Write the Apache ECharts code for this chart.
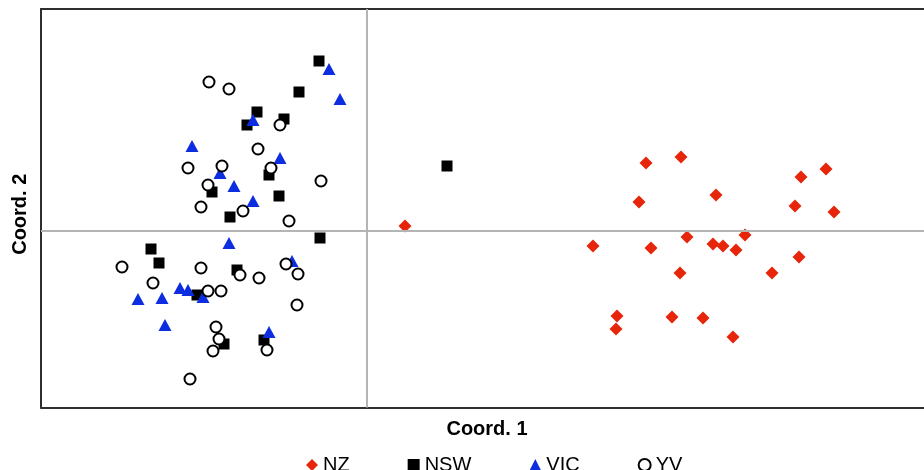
<!DOCTYPE html>
<html>
<head>
<meta charset="utf-8">
<script src="https://cdn.jsdelivr.net/npm/echarts@6/dist/echarts.min.js"></script>
<style>html,body{margin:0;padding:0;background:#fff}#c{width:924px;height:470px}</style>
</head>
<body>
<div id="c"></div>
<script>
const seriesNames = ['NZ', 'NSW', 'VIC', 'YV'];
const xAxisName = 'Coord. 1';
const yAxisName = 'Coord. 2';

const nzData = [
  [0.38, 0.05], [2.26, -0.15], [2.50, -0.85], [2.49, -0.98], [2.79, 0.68], [3.14, 0.74],
  [2.72, 0.29], [2.84, -0.17], [3.20, -0.06], [3.13, -0.42], [3.05, -0.86], [3.36, -0.87],
  [3.49, 0.36], [3.46, -0.13], [3.56, -0.15], [3.69, -0.19], [3.78, -0.04], [3.66, -1.06],
  [4.05, -0.42], [4.28, 0.25], [4.32, -0.26], [4.34, 0.54], [4.59, 0.62], [4.67, 0.19]
];
const nswData = [
  [0.80, 0.65], [-0.48, 1.70], [-0.68, 1.39], [-1.10, 1.19], [-1.20, 1.06], [-0.83, 1.12],
  [-0.98, 0.56], [-0.88, 0.35], [-1.55, 0.39], [-1.37, 0.14], [-0.47, -0.07], [-2.16, -0.18],
  [-2.08, -0.32], [-1.30, -0.39], [-1.70, -0.64], [-1.43, -1.13], [-1.03, -1.09]
];
const vicData = [
  [-0.38, 1.62], [-0.27, 1.32], [-1.14, 1.11], [-1.75, 0.85], [-0.87, 0.73], [-1.47, 0.58],
  [-1.33, 0.45], [-1.14, 0.30], [-1.38, -0.12], [-0.75, -0.30], [-2.29, -0.68], [-2.05, -0.67],
  [-1.87, -0.57], [-1.79, -0.59], [-1.64, -0.66], [-2.02, -0.94], [-0.98, -1.01]
];
const yvData = [
  [-1.58, 1.49], [-1.38, 1.42], [-0.87, 1.06], [-1.09, 0.82], [-1.79, 0.63], [-1.45, 0.65],
  [-0.96, 0.63], [-1.59, 0.46], [-0.46, 0.50], [-1.66, 0.24], [-1.24, 0.20], [-0.78, 0.10],
  [-2.45, -0.36], [-1.66, -0.37], [-2.14, -0.52], [-1.27, -0.44], [-1.08, -0.47], [-0.81, -0.33],
  [-0.69, -0.43], [-1.59, -0.60], [-1.46, -0.60], [-0.70, -0.74], [-1.51, -0.96], [-1.48, -1.08],
  [-1.54, -1.20], [-1.00, -1.19], [-1.77, -1.48]
];
const xRange = [-3.26, 5.57];
const yRange = [-1.765, 2.22];

const FONT = 'Liberation Sans, Arial, sans-serif';
const frameLine = { show: true, onZero: false, lineStyle: { color: '#2e2e2e', width: 2 } };
const hidden = { axisTick: { show: false }, axisLabel: { show: false }, splitLine: { show: false } };
const chart = echarts.init(document.getElementById('c'));
chart.setOption({
  animation: false,
  grid: { left: 41, top: 9, right: 0, bottom: 62.5, show: false },
  xAxis: [
    Object.assign({
      type: 'value', min: xRange[0], max: xRange[1], position: 'bottom',
      axisLine: frameLine,
      name: xAxisName, nameLocation: 'middle', nameGap: 12,
      nameTextStyle: { fontFamily: FONT, fontWeight: 'bold', fontSize: 20, color: '#000', padding: [0, 0, 0, 9] }
    }, hidden),
    Object.assign({
      type: 'value', min: xRange[0], max: xRange[1], position: 'top',
      axisLine: frameLine
    }, hidden)
  ],
  yAxis: Object.assign({
    type: 'value', min: yRange[0], max: yRange[1], position: 'left',
    axisLine: frameLine,
    name: yAxisName, nameLocation: 'middle', nameGap: 11,
    nameTextStyle: { fontFamily: FONT, fontWeight: 'bold', fontSize: 20, color: '#000', padding: [0, 12, 0, 0] }
  }, hidden),
  legend: {
    data: seriesNames,
    left: 301, top: 450,
    itemWidth: 12, itemHeight: 12, itemGap: 58,
    textStyle: { fontFamily: FONT, fontSize: 20, color: '#000' }
  },
  series: [
    {
      name: '__zero', type: 'scatter', data: [], z: 1, silent: true,
      markLine: {
        silent: true, symbol: ['none', 'none'], label: { show: false },
        lineStyle: { color: '#b4b4b4', type: 'solid', width: 2 },
        emphasis: { disabled: true },
        data: [{ xAxis: 0 }, { yAxis: 0 }]
      }
    },
    {
      name: seriesNames[0], type: 'scatter', z: 3, data: nzData,
      symbol: 'diamond', symbolSize: 13,
      itemStyle: { color: '#e6250a', opacity: 1 }
    },
    {
      name: seriesNames[1], type: 'scatter', z: 3, data: nswData,
      symbol: 'rect', symbolSize: 11,
      itemStyle: { color: '#000', opacity: 1 }
    },
    {
      name: seriesNames[2], type: 'scatter', z: 3, data: vicData,
      symbol: 'triangle', symbolSize: [13, 12],
      itemStyle: { color: '#0c2de0', opacity: 1 }
    },
    {
      name: seriesNames[3], type: 'scatter', z: 3, data: yvData,
      symbol: 'circle', symbolSize: 11,
      itemStyle: { color: '#fff', borderColor: '#000', borderWidth: 2, opacity: 1 }
    }
  ]
});
</script>
</body>
</html>
